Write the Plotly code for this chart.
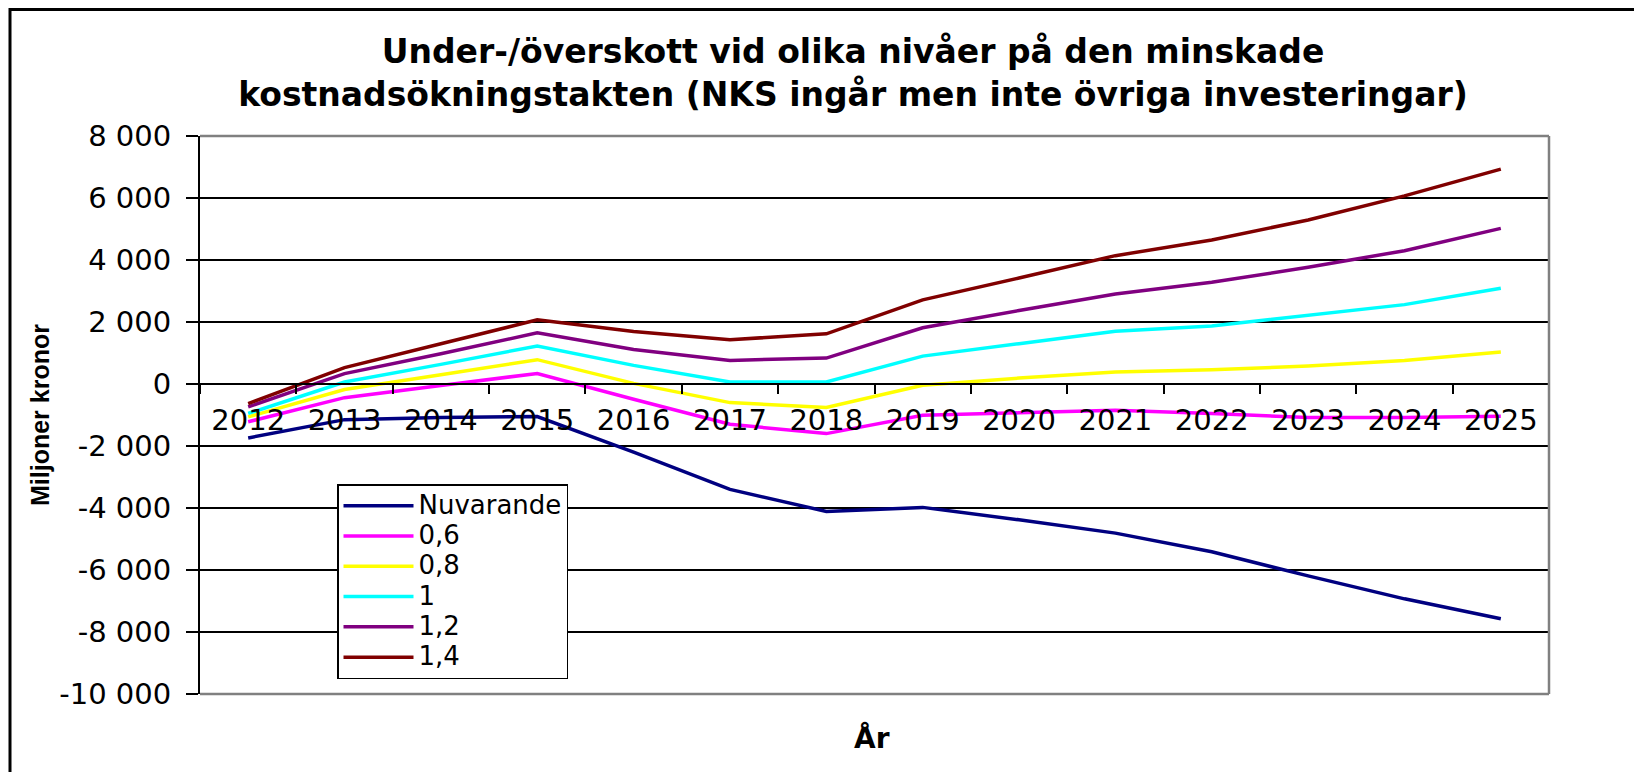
import plotly.graph_objects as go

years = [str(y) for y in range(2012, 2026)]

nuvarande = [-1740, -1150, -1080, -1050, -2200, -3400, -4110, -3980, -4380, -4810, -5410, -6190, -6930, -7570]
s06 = [-1220, -440, -50, 340, -490, -1300, -1600, -1010, -930, -850, -950, -1080, -1080, -1040]
s08 = [-1060, -180, 300, 785, 20, -600, -760, -40, 190, 385, 460, 580, 760, 1030]
s10 = [-950, 64, 634, 1225, 600, 64, 64, 900, 1300, 1700, 1870, 2210, 2560, 3090]
s12 = [-740, 334, 978, 1650, 1110, 762, 837, 1815, 2370, 2900, 3280, 3765, 4300, 5020]
s14 = [-630, 527, 1300, 2070, 1690, 1428, 1620, 2714, 3420, 4140, 4646, 5290, 6070, 6930]

series_names = ["Nuvarande", "0,6", "0,8", "1", "1,2", "1,4"]
series_values = [nuvarande, s06, s08, s10, s12, s14]
series_colors = ["#000080", "#FF00FF", "#FFFF00", "#00FFFF", "#800080", "#800000"]

y_tickvals = [8000, 6000, 4000, 2000, 0, -2000, -4000, -6000, -8000, -10000]
y_ticktext = ["8 000", "6 000", "4 000", "2 000", "0", "-2 000", "-4 000", "-6 000", "-8 000", "-10 000"]

title_text = ("Under-/överskott vid olika nivåer på den minskade<br>"
              "kostnadsökningstakten (NKS ingår men inte övriga investeringar)")

FONT = "DejaVu Sans"
OFF = 8  # page body margin offset

fig = go.Figure()
for name, vals, col in zip(series_names, series_values, series_colors):
    fig.add_trace(go.Scatter(x=years, y=vals, mode="lines",
                             name='<span style="font-size:26px">' + name + '</span>',
                             line=dict(color=col, width=3.5)))

W, H = 1642, 772
# plot area in page coords: x 200..1549, y 136..694
L, T = 200 - OFF, 136 - OFF
R = W - (1549 - OFF)
B = H - (694 - OFF)
pw, ph = W - L - R, H - T - B

def px(xp):  # page x -> paper x
    return (xp - OFF - L) / pw

def py(yp):  # page y -> paper y
    return (H - B - (yp - OFF)) / ph

zero_pos = (0 - (-10000)) / (8000 - (-10000))

fig.update_layout(
    width=W, height=H,
    margin=dict(l=L, r=R, t=T, b=B),
    paper_bgcolor="white", plot_bgcolor="white",
    font=dict(family=FONT, color="black", size=28),
    title=dict(text=title_text, x=(853 - OFF) / W, xref="container", xanchor="center",
               y=1 - 55 / H, yref="container", yanchor="middle",
               font=dict(family=FONT, size=33, color="black", weight="bold")),
    showlegend=True,
    legend=dict(x=px(337), y=py(484), xanchor="left", yanchor="top",
                bgcolor="white", bordercolor="black", borderwidth=1.5,
                font=dict(family=FONT, size=21, color="black"),
                itemwidth=70, tracegroupgap=0),
    xaxis=dict(type="category", range=[-0.5, 13.5], anchor="free", position=zero_pos,
               showline=True, linecolor="black", linewidth=2,
               ticks="outside", ticklen=9, tickwidth=2, tickcolor="black",
               tickson="boundaries", showgrid=False, zeroline=False,
               ticklabelstandoff=10,
               tickfont=dict(family=FONT, size=29, color="black")),
    yaxis=dict(range=[-10000, 8000], tickvals=y_tickvals, ticktext=y_ticktext,
               showgrid=True, gridcolor="black", gridwidth=2, zeroline=False,
               showline=True, linecolor="black", linewidth=2,
               ticks="outside", ticklen=12, tickwidth=2, tickcolor="black",
               ticklabelstandoff=9,
               tickfont=dict(family=FONT, size=29, color="black")),
)

# gray plot border (top, right, bottom)
for x0, y0, x1, y1 in [(0, 1, 1, 1), (1, 0, 1, 1), (0, 0, 1, 0)]:
    fig.add_shape(type="line", xref="paper", yref="paper", x0=x0, y0=y0, x1=x1, y1=y1,
                  line=dict(color="#808080", width=2.5), layer="above")

# outer chart frame (extends past right and bottom edges)
fig.add_shape(type="rect", xref="paper", yref="paper",
              x0=px(10), x1=px(W + 40),
              y0=py(H + 40), y1=py(OFF + 1.5),
              line=dict(color="black", width=3), layer="above")

# axis titles
fig.add_annotation(text="<b>År</b>", xref="paper", yref="paper", x=px(872),
                   y=py(738), showarrow=False, xanchor="center", yanchor="middle",
                   font=dict(family=FONT, size=28, color="black"))
fig.add_annotation(text="<b>Miljoner kronor</b>", xref="paper", yref="paper",
                   x=px(40), y=py(415), showarrow=False, textangle=-90,
                   xanchor="center", yanchor="middle",
                   font=dict(family="Liberation Sans", size=25, color="black"))

fig.write_html("out.html")
